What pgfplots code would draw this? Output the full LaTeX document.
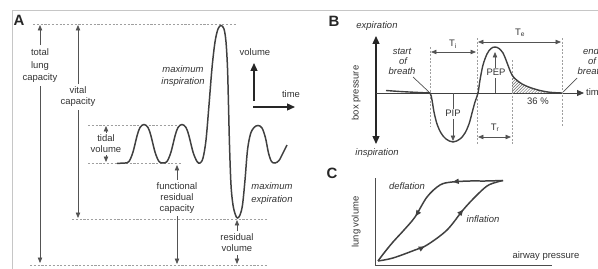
\documentclass[border=0pt]{standalone}
\usepackage{fontspec}
\setmainfont{Liberation Sans}
\usepackage{pgfplots}
\pgfplotsset{compat=1.18}
\usetikzlibrary{arrows.meta,decorations.markings,patterns}
\begin{document}
\begin{tikzpicture}[
  lbl/.style={font=\fontsize{9.5}{11}\selectfont, text=black!80, inner sep=0pt, text height=7bp, text depth=2bp},
  ilbl/.style={lbl, font=\fontsize{9.5}{11}\selectfont\itshape},
  big/.style={font=\fontsize{15}{15}\selectfont\bfseries, text=black!85, inner sep=0pt},
  dl/.style={gray!75, line width=0.8pt, dash pattern=on 2.2pt off 1.6pt},
  ar/.style={gray!65!black, line width=0.7pt, -{Triangle[length=5.5pt,width=4.5pt]}},
  dar/.style={gray!65!black, line width=0.7pt, {Triangle[length=5.5pt,width=4.5pt]}-{Triangle[length=5.5pt,width=4.5pt]}},
  bar/.style={black!85, line width=1.3pt, -{Triangle[length=8pt,width=7pt]}},
  cv/.style={black!75, line width=1.5pt, smooth, tension=0.55},
  bd/.style={gray!45, line width=0.8pt},
  vd/.style={gray!75, line width=0.8pt, dash pattern=on 2pt off 1.6pt},
]
\begin{axis}[scale only axis, width=598bp, height=269bp,
  xmin=0, xmax=598, ymin=0, ymax=269, y dir=reverse,
  hide axis, clip=false]

% frame
\addplot[bd] coordinates {(12,269) (12,10) (598,10)};

% ===== Panel A =====
% dashed reference lines
\addplot[dl] coordinates {(33,24) (236,24)};
\addplot[dl] coordinates {(88,125) (178,125)};
\addplot[dl] coordinates {(88,163) (181,163)};
\addplot[dl] coordinates {(72,219) (268,219)};
\addplot[dl] coordinates {(30,265) (268,265)};

% total lung capacity
\addplot[ar] coordinates {(40,45) (40,25)};
\addplot[ar] coordinates {(40,86) (40,263)};
% vital capacity
\addplot[ar] coordinates {(78,84) (78,25)};
\addplot[ar] coordinates {(78,110) (78,218)};
% tidal volume
\addplot[ar] coordinates {(106,133) (106,126)};
\addplot[ar] coordinates {(106,155) (106,162)};
% functional residual capacity
\addplot[ar] coordinates {(177,180) (177,165)};
\addplot[ar] coordinates {(177,216) (177,264)};
% residual volume
\addplot[ar] coordinates {(237,231) (237,220)};
\addplot[ar] coordinates {(237,255) (237,264)};

% volume / time axes
\addplot[bar] coordinates {(254,101) (254,63)};
\addplot[bar] coordinates {(253,107) (295,107)};

% breathing curve
\addplot[cv] coordinates {
(117,163.5) (121,163.2) (125,163) (129,161.5) (133,152) (137,136) (140,127.5) (144,124.5)
(148,127.5) (151,136) (155,152) (159,161.5) (163,163)
(167,161.5) (171,152) (175,136) (178,127.5) (182,124.5)
(186,127.5) (189,136) (193,152) (197,161.5) (200,163)
(203,158) (206,140) (209,105) (212,68) (215,42) (218,29) (221,25.5) (224,29) (226,42)
(227.5,68) (228.5,105) (229.5,145) (231,185) (233,205) (235.5,215) (237.5,218)
(240,215) (242.5,205) (245,180) (247.5,150) (250.5,134) (254,127.5) (258,125.5)
(262,128) (265.5,138) (268.5,153) (271.5,161.5) (275,163) (279,160.5) (283,153) (287,145)};

\node[big] at (19,20) {A};
\node[lbl] at (40,53) {total};
\node[lbl] at (40,66) {lung};
\node[lbl] at (40,78) {capacity};
\node[lbl] at (78,91) {vital};
\node[lbl] at (78,102) {capacity};
\node[lbl] at (106,139) {tidal};
\node[lbl] at (106,150) {volume};
\node[ilbl] at (183,70) {maximum};
\node[ilbl] at (183,82) {inspiration};
\node[lbl] at (255,53) {volume};
\node[lbl] at (291,95) {time};
\node[lbl] at (177,187) {functional};
\node[lbl] at (177,198) {residual};
\node[lbl] at (177,209) {capacity};
\node[ilbl] at (272,187) {maximum};
\node[ilbl] at (272,200) {expiration};
\node[lbl] at (237,238) {residual};
\node[lbl] at (237,249) {volume};

% ===== Panel B =====
\addplot[black!85, line width=1.3pt, {Triangle[length=8pt,width=7pt]}-{Triangle[length=8pt,width=7pt]}] coordinates {(376,144) (376,36)};
\addplot[black!75, line width=0.9pt, -{Triangle[length=7pt,width=6pt]}] coordinates {(376,93) (584,93)};

% dashed verticals
\addplot[vd] coordinates {(430,47) (430,126)};
\addplot[vd] coordinates {(477,38) (477,144)};
\addplot[vd] coordinates {(512,60) (512,144)};
\addplot[vd] coordinates {(562,38) (562,126)};

% hatched area
\addplot[draw=none, pattern=north east lines, pattern color=black!60] coordinates {
(512,93) (512,75) (516,79.5) (522,84) (530,87.5) (540,90.5) (550,92.3) (562,93)} -- cycle;

% pressure curve
\addplot[cv, line width=1.4pt] coordinates {
(386,90.5) (400,91.5) (415,92.3) (425,92.8) (430,93) (432,100) (434,112) (437,124) (441,133)
(446,139) (453,142) (460,139) (465,133) (469,124) (472,113) (475,102) (478,93) (480,80)
(483,65) (487,54) (491,48.5) (495,47) (499,48.5) (503,53) (506,60) (509,68) (512,75)
(516,79.5) (522,84) (530,87.5) (540,90.5) (550,92.3) (562,93)};

% timing arrows
\addplot[dar] coordinates {(431,52) (476,52)};
\addplot[dar] coordinates {(478,42) (561,42)};
\addplot[dar] coordinates {(478,137) (511,137)};
% PEP / PIP
\addplot[ar] coordinates {(495,93) (495,52)};
\addplot[ar] coordinates {(453,93) (453,141)};
% pointers
\addplot[gray!65!black, line width=0.7pt] coordinates {(413,77) (429,92)};
\addplot[gray!65!black, line width=0.7pt] coordinates {(563,92) (577,78)};

\node[big] at (334,21) {B};
\node[ilbl] at (377,26) {expiration};
\node[ilbl] at (377,153) {inspiration};
\node[lbl, rotate=90] at (356,93) {box pressure};
\node[ilbl] at (402,52) {start};
\node[ilbl] at (403,62) {of};
\node[ilbl] at (402,72) {breath};
\node[ilbl] at (591,52) {end};
\node[ilbl] at (592,62) {of};
\node[ilbl] at (591,72) {breath};
\node[lbl] at (453,44) {T\textsubscript{i}};
\node[lbl] at (520,33) {T\textsubscript{e}};
\node[lbl] at (495,128) {T\textsubscript{r}};
\node[lbl, fill=white, inner sep=1pt] at (496,73) {PEP};
\node[lbl, fill=white, inner sep=1pt] at (453,114) {PIP};
\node[lbl] at (538,102) {36 \%};
\node[lbl, anchor=west] at (586,93) {time};

% ===== Panel C =====
\addplot[black!70, line width=0.9pt] coordinates {(375,178) (375,265) (552,265)};

\addplot[cv, postaction={decorate}, decoration={markings,
  mark=at position 0.31 with {\arrow{Triangle[length=6pt,width=5pt]}},
  mark=at position 0.64 with {\arrow{Triangle[length=6pt,width=5pt]}}}] coordinates {
(503,180.5) (485,181) (470,181) (452,182) (440,185) (427,197) (415,217) (404,230) (393,242) (384,253) (378,261)};
\addplot[cv, postaction={decorate}, decoration={markings,
  mark=at position 0.32 with {\arrow{Triangle[length=6pt,width=5pt]}},
  mark=at position 0.67 with {\arrow{Triangle[length=6pt,width=5pt]}}}] coordinates {
(378,261) (393,258) (415,250) (427,245) (447,230) (463,210) (475,197) (487,186) (497,182) (503,180.5)};

\node[big] at (332,173) {C};
\node[lbl, rotate=90] at (356,222) {lung volume};
\node[ilbl] at (407,187) {deflation};
\node[ilbl] at (483,220) {inflation};
\node[lbl] at (546,256) {airway pressure};

\end{axis}
\pgfresetboundingbox
\useasboundingbox (0,0) rectangle (598bp,269bp);
\end{tikzpicture}
\end{document}
